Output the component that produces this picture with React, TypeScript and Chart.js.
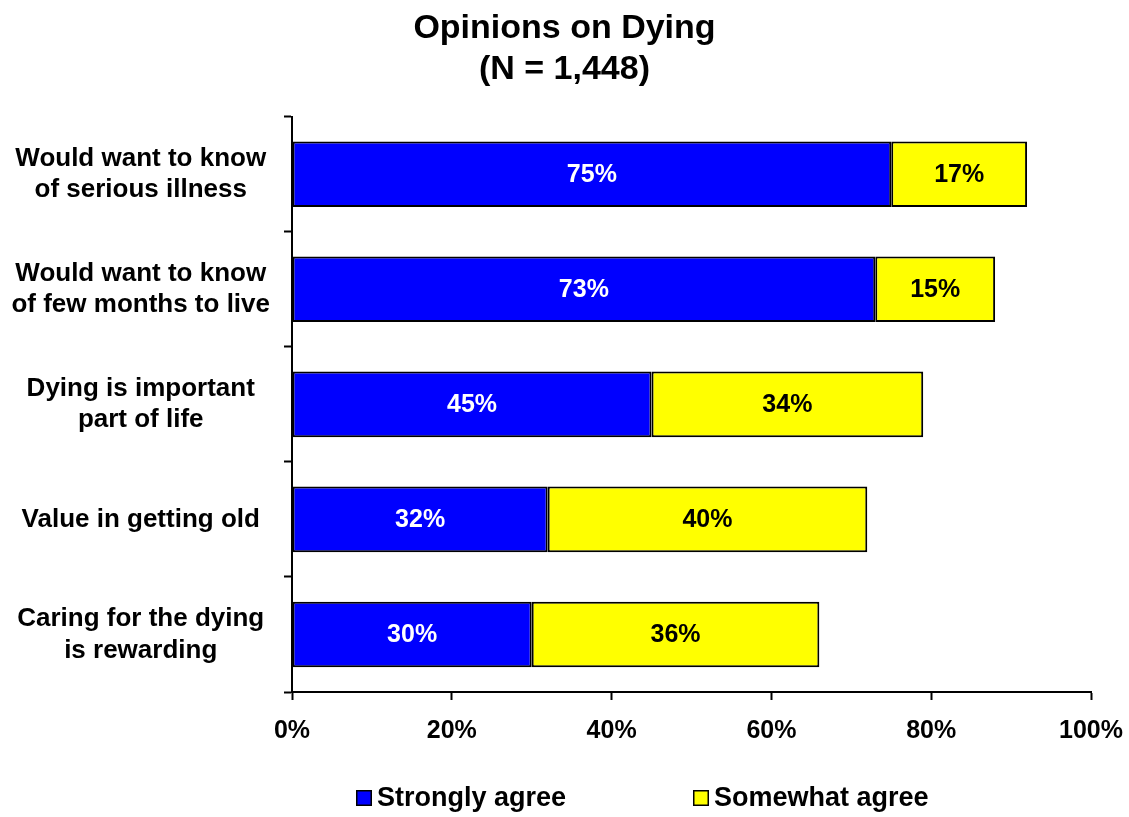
import React, { useEffect, useRef } from "react";
import { Chart, registerables } from "chart.js";

Chart.register(...registerables);

const TITLE_LINES = ["Opinions on Dying", "(N = 1,448)"];
const CATEGORIES: string[][] = [
  ["Would want to know", "of serious illness"],
  ["Would want to know", "of few months to live"],
  ["Dying is important", "part of life"],
  ["Value in getting old"],
  ["Caring for the dying", "is rewarding"],
];
const STRONGLY_AGREE = [75, 73, 45, 32, 30];
const SOMEWHAT_AGREE = [17, 15, 34, 40, 36];
const SERIES_NAMES = ["Strongly agree", "Somewhat agree"];
const SERIES_COLORS = ["#0000FF", "#FFFF00"];
const LABEL_COLORS = ["#FFFFFF", "#000000"];
const X_TICKS = [0, 20, 40, 60, 80, 100];

const FONT = "'Liberation Sans', Arial, Helvetica, sans-serif";

const valueLabelPlugin = {
  id: "valueLabels",
  afterDatasetsDraw(chart: any) {
    const ctx = chart.ctx;
    ctx.save();
    ctx.font = `bold 25px ${FONT}`;
    ctx.textAlign = "center";
    ctx.textBaseline = "middle";
    chart.data.datasets.forEach((ds: any, di: number) => {
      const meta = chart.getDatasetMeta(di);
      meta.data.forEach((el: any, i: number) => {
        const p = el.getProps(["x", "y", "base"], true);
        ctx.fillStyle = LABEL_COLORS[di];
        ctx.fillText(`${ds.data[i]}%`, (p.x + p.base) / 2, p.y + 1);
      });
    });
    ctx.restore();
  },
};

const titlePlugin = {
  id: "centeredTitle",
  afterDraw(chart: any) {
    const ctx = chart.ctx;
    ctx.save();
    ctx.font = `bold 34px ${FONT}`;
    ctx.textAlign = "center";
    ctx.textBaseline = "middle";
    ctx.fillStyle = "#000000";
    const cx = chart.width / 2;
    TITLE_LINES.forEach((line, i) => {
      ctx.fillText(line, cx, 29 + i * 41);
    });
    ctx.restore();
  },
};

const customLegendPlugin = {
  id: "customLegend",
  afterDraw(chart: any) {
    const ctx = chart.ctx;
    const left = chart.chartArea.left;
    const offsets = [64, 401];
    const boxY = 790;
    const box = 16;
    ctx.save();
    ctx.font = `bold 27px ${FONT}`;
    ctx.textAlign = "left";
    ctx.textBaseline = "middle";
    SERIES_NAMES.forEach((name, i) => {
      const bx = left + offsets[i];
      ctx.fillStyle = SERIES_COLORS[i];
      ctx.fillRect(bx, boxY, box, box);
      ctx.strokeStyle = "#000000";
      ctx.lineWidth = 1.5;
      ctx.strokeRect(bx + 0.75, boxY + 0.75, box - 1.5, box - 1.5);
      ctx.fillStyle = "#000000";
      ctx.fillText(name, bx + box + 5, boxY + box / 2 + 1);
    });
    ctx.restore();
  },
};

export default function App() {
  const ref = useRef<HTMLCanvasElement | null>(null);

  useEffect(() => {
    document.body.style.margin = "0";
    const canvas = ref.current;
    if (!canvas) return;
    const chart = new Chart(canvas, {
      type: "bar",
      data: {
        labels: CATEGORIES,
        datasets: [
          {
            label: SERIES_NAMES[0],
            data: STRONGLY_AGREE,
            backgroundColor: SERIES_COLORS[0],
            borderColor: "#000000",
            borderWidth: 2,
            borderSkipped: false,
            barPercentage: 0.57,
            categoryPercentage: 1,
          },
          {
            label: SERIES_NAMES[1],
            data: SOMEWHAT_AGREE,
            backgroundColor: SERIES_COLORS[1],
            borderColor: "#000000",
            borderWidth: 2,
            borderSkipped: false,
            barPercentage: 0.57,
            categoryPercentage: 1,
          },
        ],
      },
      options: {
        indexAxis: "y",
        responsive: false,
        animation: false,
        devicePixelRatio: 1,
        layout: { padding: { left: 0, right: 38, top: 116.7, bottom: 55 } },
        plugins: {
          legend: { display: false },
          tooltip: { enabled: false },
          title: { display: false },
        },
        scales: {
          x: {
            stacked: true,
            min: 0,
            max: 100,
            afterBuildTicks: (scale: any) => {
              scale.ticks = X_TICKS.map((v) => ({ value: v }));
            },
            afterFit: (scale: any) => {
              scale.paddingRight = 0;
              scale.paddingLeft = 0;
            },
            grid: {
              drawOnChartArea: false,
              drawTicks: true,
              tickLength: 8,
              tickWidth: 2,
              tickColor: "#000000",
            },
            border: { display: true, color: "#000000", width: 2 },
            ticks: {
              color: "#000000",
              padding: 16,
              maxRotation: 0,
              font: { family: FONT, size: 25, weight: "bold" },
              callback: (v: any) => `${v}%`,
            },
          },
          y: {
            stacked: true,
            afterFit: (scale: any) => {
              scale.width = 292;
            },
            grid: {
              offset: true,
              drawOnChartArea: false,
              drawTicks: true,
              tickLength: 8,
              tickWidth: 2,
              tickColor: "#000000",
            },
            border: { display: true, color: "#000000", width: 2 },
            ticks: {
              color: "#000000",
              padding: 14,
              crossAlign: "center",
              font: { family: FONT, size: 26, weight: "bold", lineHeight: 1.22 },
            },
          },
        },
      },
      plugins: [valueLabelPlugin, titlePlugin, customLegendPlugin],
    });
    return () => chart.destroy();
  }, []);

  return (
    <canvas
      ref={ref}
      width={1129}
      height={817}
      style={{ display: "block", width: "1129px", height: "817px" }}
    />
  );
}
